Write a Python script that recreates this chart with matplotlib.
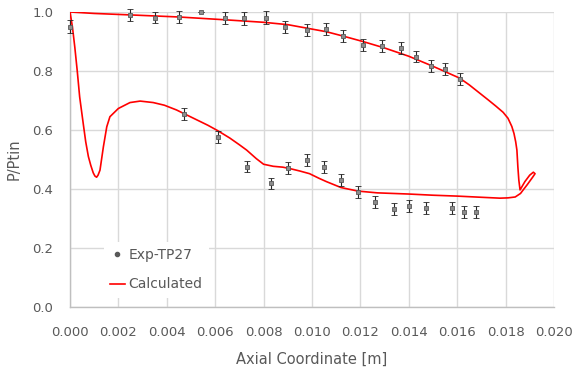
import matplotlib.pyplot as plt
from matplotlib.lines import Line2D

plt.rcParams["font.family"] = ["DejaVu Sans"]

# 实验测点（上壁面）
exp_up_x = [0.0000, 0.0025, 0.0035, 0.0045, 0.0054, 0.0064, 0.0072, 0.0081, 0.0089,
            0.0098, 0.0106, 0.0113, 0.0121, 0.0129, 0.0137, 0.0143, 0.0149, 0.0155, 0.0161]
exp_up_y = [0.950, 0.990, 0.981, 0.984, 1.000, 0.979, 0.979, 0.981, 0.950,
            0.939, 0.941, 0.918, 0.888, 0.885, 0.877, 0.849, 0.817, 0.807, 0.772]
exp_up_err = [0.022, 0.020, 0.020, 0.020, 0.000, 0.020, 0.022, 0.022, 0.020,
              0.020, 0.020, 0.020, 0.020, 0.020, 0.020, 0.020, 0.020, 0.020, 0.020]

# 实验测点（下壁面）
exp_low_x = [0.0047, 0.0061, 0.0073, 0.0083, 0.0090, 0.0098, 0.0105, 0.0112, 0.0119,
             0.0126, 0.0134, 0.0140, 0.0147, 0.0158, 0.0163, 0.0168]
exp_low_y = [0.654, 0.577, 0.476, 0.419, 0.470, 0.498, 0.474, 0.431, 0.389,
             0.357, 0.331, 0.343, 0.335, 0.335, 0.323, 0.323]
exp_low_err = [0.020] * 16

# 计算曲线（闭合轮廓：上壁 -> 出口 -> 下壁 -> 回到入口）
calc_x = [0.0000, 0.0010, 0.0025, 0.0045, 0.0065, 0.0080, 0.0090, 0.0098, 0.0106,
          0.0113, 0.0121, 0.0130, 0.0140, 0.0150, 0.0161, 0.0165, 0.0169, 0.0173,
          0.01760, 0.01790, 0.01810, 0.01826, 0.01835, 0.01842, 0.01847, 0.01851,
          0.01855, 0.01860,
          0.01880, 0.01900, 0.01915, 0.01922, 0.01912, 0.01890, 0.01874, 0.01862,
          0.01840, 0.01810, 0.01777, 0.0170, 0.0160, 0.0150, 0.0140, 0.0127, 0.0119,
          0.0112, 0.0106, 0.0103, 0.0099, 0.0095, 0.0091, 0.0088, 0.0084, 0.0080,
          0.0077, 0.0073, 0.0070, 0.0066, 0.0061, 0.0057, 0.0050, 0.0044, 0.00390,
          0.00344, 0.0029, 0.00248, 0.0020, 0.00165, 0.00152, 0.00138, 0.00124,
          0.00116, 0.0011, 0.00103, 0.00096, 0.00086, 0.00076, 0.00065, 0.00055,
          0.0004, 0.0003, 0.0002, 0.0001, 0.0000]
calc_y = [1.000, 0.995, 0.990, 0.983, 0.973, 0.965, 0.957, 0.945, 0.933,
          0.918, 0.900, 0.878, 0.850, 0.816, 0.776, 0.753, 0.727, 0.701,
          0.681, 0.660, 0.640, 0.612, 0.588, 0.560, 0.532, 0.475,
          0.430, 0.397,
          0.425, 0.447, 0.457, 0.452, 0.440, 0.415, 0.398, 0.385,
          0.373, 0.370, 0.369, 0.372, 0.376, 0.379, 0.383, 0.387, 0.393,
          0.405, 0.425, 0.436, 0.452, 0.461, 0.469, 0.474, 0.477, 0.484,
          0.503, 0.532, 0.550, 0.573, 0.598, 0.616, 0.644, 0.668, 0.684,
          0.693, 0.698, 0.693, 0.673, 0.645, 0.611, 0.543, 0.464,
          0.447, 0.440, 0.444, 0.455, 0.480, 0.510, 0.560, 0.620,
          0.712, 0.800, 0.880, 0.950, 1.000]

xticks = [0.000, 0.002, 0.004, 0.006, 0.008, 0.010, 0.012, 0.014, 0.016, 0.018, 0.020]
yticks = [0.0, 0.2, 0.4, 0.6, 0.8, 1.0]

grey = '#595959'

fig = plt.figure(figsize=(5.77, 3.74), dpi=100)
ax = fig.add_axes([0.1213, 0.179, 0.8387, 0.789])

ax.plot(calc_x, calc_y, color='#ff0000', lw=1.2, zorder=3, solid_joinstyle='round')

for xs, ys, es in [(exp_up_x, exp_up_y, exp_up_err), (exp_low_x, exp_low_y, exp_low_err)]:
    ax.errorbar(xs, ys, yerr=es, fmt='s', ms=3.2, mfc='#8c8c8c', mec='#595959', mew=0.6,
                ecolor='#262626', elinewidth=0.8, capsize=2, capthick=0.8, zorder=4,
                clip_on=False)

ax.set_xlim(0, 0.020)
ax.set_ylim(0, 1.0)
ax.set_xticks(xticks)
ax.set_yticks(yticks)
ax.set_xticklabels([f'{v:.3f}' for v in xticks])
ax.set_yticklabels([f'{v:.1f}' for v in yticks])
ax.tick_params(length=0, labelsize=9.5, colors=grey)
ax.tick_params(axis='x', pad=14)
ax.tick_params(axis='y', pad=12)

ax.grid(True, color='#d9d9d9', lw=1)
ax.set_axisbelow(True)
for s in ['top', 'right']:
    ax.spines[s].set_visible(False)
for s in ['left', 'bottom']:
    ax.spines[s].set_color('#bfbfbf')
    ax.spines[s].set_linewidth(1)

ax.set_xlabel('Axial Coordinate [m]', fontsize=10.5, color=grey, labelpad=9)
ax.set_ylabel('P/Ptin', fontsize=10.5, color=grey, labelpad=8)

handles = [Line2D([], [], ls='none', marker='o', ms=3, color='#595959'),
           Line2D([], [], color='#ff0000', lw=1.2)]
leg = ax.legend(handles, ['Exp-TP27', 'Calculated'], loc='lower left',
                bbox_to_anchor=(0.055, 0.008), fontsize=10, labelcolor=grey,
                frameon=True, facecolor='white', edgecolor='none', framealpha=1,
                fancybox=False, handlelength=1.1, handletextpad=0.25,
                borderpad=0.45, labelspacing=1.1)

fig.savefig('out.png', dpi=100)
